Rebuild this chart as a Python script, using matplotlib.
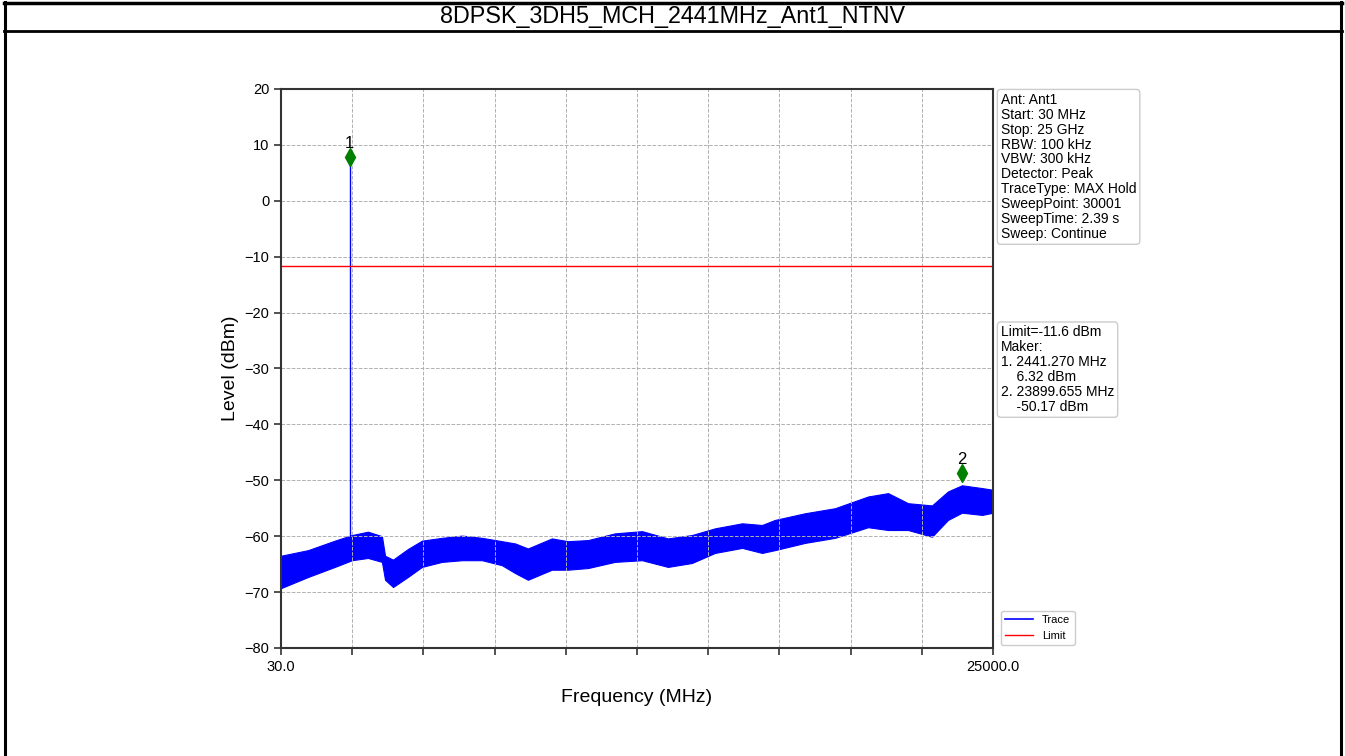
import numpy as np
import matplotlib
matplotlib.use('Agg')
import matplotlib.pyplot as plt
from matplotlib.lines import Line2D

plt.rcParams['font.family'] = ['Liberation Sans', 'DejaVu Sans']

title = '8DPSK_3DH5_MCH_2441MHz_Ant1_NTNV'

# Trace envelope (MHz, dBm)
freq = [30, 980, 1920, 2520, 3080, 3570, 3680, 3960, 4480, 4975, 5675, 6380,
        7080, 7780, 8240, 8690, 9530, 10090, 10800, 11740, 12690, 13600, 14440,
        15250, 16200, 16900, 17350, 18410, 19460, 20620, 21320, 22020, 22860,
        23420, 23910, 24620, 25000]
upper = [-63.5, -62.5, -60.8, -59.8, -59.2, -60.0, -63.5, -64.2, -62.3, -60.8,
         -60.3, -59.9, -60.3, -60.9, -61.3, -62.2, -60.4, -60.9, -60.7, -59.5,
         -59.1, -60.4, -59.8, -58.6, -57.7, -58.0, -57.1, -55.9, -55.0, -52.9,
         -52.3, -54.1, -54.5, -52.0, -50.9, -51.4, -51.7]
lower = [-69.3, -67.3, -65.5, -64.3, -63.9, -64.6, -67.8, -69.1, -67.3, -65.5,
         -64.6, -64.3, -64.3, -65.2, -66.6, -67.8, -66.0, -66.0, -65.7, -64.6,
         -64.3, -65.5, -64.8, -63.0, -62.1, -63.0, -62.5, -61.2, -60.3, -58.4,
         -58.9, -58.9, -60.1, -57.1, -55.8, -56.2, -55.8]

limit = -11.6
marker_freq = [2441.270, 23899.655]
marker_level = [6.32, -50.17]

info_text = ('Ant: Ant1\nStart: 30 MHz\nStop: 25 GHz\nRBW: 100 kHz\nVBW: 300 kHz\n'
             'Detector: Peak\nTraceType: MAX Hold\nSweepPoint: 30001\n'
             'SweepTime: 2.39 s\nSweep: Continue')
marker_text = ('Limit=-11.6 dBm\nMaker:\n1. 2441.270 MHz\n    6.32 dBm\n'
               '2. 23899.655 MHz\n    -50.17 dBm')

fig = plt.figure(figsize=(13.45, 7.56), dpi=100)

# page frame and title band
fig.add_artist(Line2D([0.004, 0.004], [0, 0.997], color='black', lw=2.2))
fig.add_artist(Line2D([0.997, 0.997], [0, 0.997], color='black', lw=2.2))
fig.add_artist(Line2D([0.003, 0.998], [0.996, 0.996], color='black', lw=2.5))
fig.add_artist(Line2D([0.003, 0.998], [0.959, 0.959], color='black', lw=2))
fig.text(0.5, 0.978, title, ha='center', va='center', fontsize=16.8)

ax = fig.add_axes([0.2089, 0.1429, 0.5294, 0.7394])

ax.fill_between(freq, lower, upper, color='blue', lw=0.8, edgecolor='blue')
ax.plot([marker_freq[0], marker_freq[0]], [-61.5, marker_level[0]], color='blue', lw=1)
ax.plot([], [], color='blue', lw=1.2, label='Trace')
ax.axhline(limit, color='red', lw=1, label='Limit')

for i, (f, lv) in enumerate(zip(marker_freq, marker_level)):
    ax.plot(f, lv + 1.5, marker='d', color='green', markersize=9, zorder=5)
    ax.text(f, lv + 2.6, str(i + 1), ha='center', va='bottom', fontsize=12)

ax.set_xlim(30, 25000)
ax.set_ylim(-80, 20)
xt = np.linspace(30, 25000, 11)
ax.set_xticks(xt)
ax.set_xticklabels(['30.0'] + [''] * 9 + ['25000.0'])
ax.set_yticks(np.arange(-80, 21, 10))
ax.tick_params(labelsize=10.5, length=5, width=1.2, color='#333333')
ax.grid(True, linestyle='--', color='#b0b0b0', lw=0.7)
for s in ax.spines.values():
    s.set_color('#333333')
    s.set_linewidth(1.5)

ax.set_xlabel('Frequency (MHz)', fontsize=14, labelpad=11)
ax.set_ylabel('Level (dBm)', fontsize=14)

box = dict(boxstyle='round,pad=0.25', facecolor='white', edgecolor='#cccccc')
ax.text(1.011, 0.993, info_text, transform=ax.transAxes, ha='left', va='top',
        fontsize=10, linespacing=1.08, bbox=box)
ax.text(1.011, 0.577, marker_text, transform=ax.transAxes, ha='left', va='top',
        fontsize=10, linespacing=1.08, bbox=box)

ax.legend(loc='lower left', bbox_to_anchor=(1.003, -0.005), fontsize=8,
          handlelength=2.5, framealpha=1, edgecolor='#cccccc')

fig.savefig('out.png', dpi=100)
